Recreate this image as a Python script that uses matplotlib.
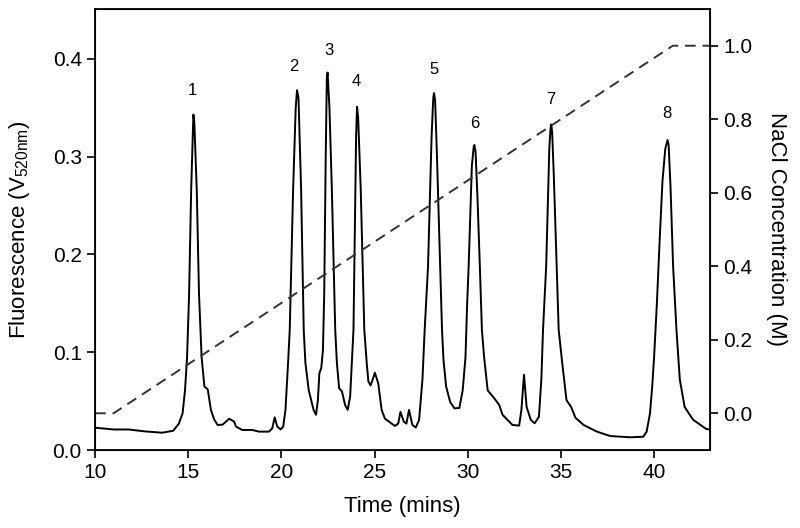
import matplotlib.pyplot as plt

plt.rcParams['font.family'] = ['Liberation Sans', 'DejaVu Sans']

# Fluorescence trace (time in mins, signal in V)
time = [10.0, 11.0, 11.8, 12.7, 13.6, 14.2, 14.5, 14.7, 14.83, 14.94, 15.05, 15.16, 15.24, 15.28, 15.33,
        15.46, 15.58, 15.72, 15.87, 16.05, 16.22, 16.4, 16.58, 16.85, 17.2, 17.47, 17.56, 17.9,
        18.44, 18.8, 19.33, 19.51, 19.64, 19.78, 19.96, 20.1, 20.22, 20.36, 20.45, 20.63, 20.77, 20.84,
        20.92, 21.06, 21.2, 21.29, 21.47, 21.73, 21.86, 21.96, 22.04, 22.14, 22.23, 22.3, 22.38, 22.44,
        22.48, 22.58, 22.71, 22.89, 22.98, 23.1, 23.25, 23.42, 23.56, 23.69, 23.78, 23.87, 23.94, 24.01,
        24.06, 24.12, 24.26, 24.45, 24.58, 24.67, 24.79, 25.02, 25.2, 25.38, 25.56, 26.09, 26.27, 26.39,
        26.57, 26.71, 26.85, 27.03, 27.21, 27.39, 27.57, 27.69, 27.87, 28.06, 28.15, 28.19, 28.25, 28.35,
        28.52, 28.62, 28.7, 28.84, 29.06, 29.29, 29.55, 29.73, 29.88, 29.97, 30.05, 30.22, 30.32, 30.36,
        30.42, 30.52, 30.65, 30.76, 30.88, 31.07, 31.42, 31.69, 31.87, 32.4, 32.76, 32.88, 33.02, 33.16,
        33.38, 33.59, 33.82, 33.95, 34.04, 34.21, 34.38, 34.45, 34.48, 34.53, 34.62, 34.77, 34.88, 35.07,
        35.3, 35.55, 35.78, 36.22, 36.93, 37.64, 38.71, 39.42, 39.6, 39.78, 39.9, 40.0, 40.15, 40.3,
        40.45, 40.6, 40.72, 40.78, 40.88, 41.02, 41.2, 41.38, 41.64, 42.09, 42.8, 43.0]
signal = [0.0228, 0.021, 0.021, 0.019, 0.0177, 0.0197, 0.027, 0.0375, 0.061, 0.095, 0.16, 0.266, 0.32, 0.343, 0.335,
          0.266, 0.16, 0.095, 0.065, 0.062, 0.041, 0.031, 0.0256, 0.026, 0.032, 0.029, 0.024, 0.0205,
          0.0205, 0.0188, 0.0188, 0.022, 0.0334, 0.024, 0.021, 0.024, 0.041, 0.089, 0.123, 0.266, 0.35, 0.368,
          0.36, 0.266, 0.123, 0.089, 0.061, 0.041, 0.036, 0.051, 0.0785, 0.0836, 0.102, 0.16, 0.3, 0.38,
          0.386, 0.35, 0.266, 0.123, 0.089, 0.063, 0.06, 0.046, 0.041, 0.0546, 0.089, 0.123, 0.22, 0.32,
          0.351, 0.34, 0.266, 0.123, 0.089, 0.07, 0.066, 0.079, 0.068, 0.041, 0.032, 0.0246, 0.027, 0.039,
          0.029, 0.027, 0.041, 0.0256, 0.023, 0.0307, 0.072, 0.123, 0.188, 0.32, 0.36, 0.365, 0.358, 0.3,
          0.188, 0.123, 0.092, 0.065, 0.049, 0.0426, 0.043, 0.061, 0.095, 0.15, 0.188, 0.29, 0.31, 0.312,
          0.305, 0.26, 0.188, 0.123, 0.095, 0.061, 0.053, 0.046, 0.036, 0.0256, 0.025, 0.041, 0.077, 0.044,
          0.031, 0.0273, 0.034, 0.072, 0.123, 0.188, 0.31, 0.33, 0.333, 0.325, 0.28, 0.188, 0.123, 0.089,
          0.051, 0.044, 0.033, 0.0256, 0.0188, 0.0143, 0.013, 0.0136, 0.0188, 0.0375, 0.065, 0.095, 0.15, 0.215,
          0.275, 0.308, 0.317, 0.312, 0.27, 0.188, 0.123, 0.072, 0.044, 0.031, 0.0215, 0.021]

# NaCl gradient (time in mins, concentration in M)
grad_time = [10, 11, 41, 43]
grad_conc = [0.0, 0.0, 1.0, 1.0]

# Peak labels
peak_labels = ['1', '2', '3', '4', '5', '6', '7', '8']
peak_time = [15.2, 20.67, 22.53, 24.04, 28.19, 30.36, 34.48, 40.67]
peak_height = [0.360, 0.384, 0.401, 0.369, 0.381, 0.326, 0.351, 0.336]

fig = plt.figure(figsize=(8, 5.28), dpi=100)
ax = fig.add_axes([0.11875, 0.1477, 0.76875, 0.8353])
ax.plot(time, signal, color='black', lw=1.4)
for lab, t, h in zip(peak_labels, peak_time, peak_height):
    ax.text(t, h, lab, ha='center', va='bottom', fontsize=12)

ax.set_xlim(10, 43)
ax.set_ylim(0, 0.451)
ax.set_xticks([10, 15, 20, 25, 30, 35, 40])
ax.set_yticks([0.0, 0.1, 0.2, 0.3, 0.4])
ax.set_yticklabels(['0.0', '0.1', '0.2', '0.3', '0.4'])
ax.tick_params(labelsize=15, length=6, width=1.2)
ax.set_xlabel('Time (mins)', fontsize=16, labelpad=10)
ax.set_ylabel(r'Fluorescence (V$_{\mathregular{520nm}}$)', fontsize=16, labelpad=15)
for s in ax.spines.values():
    s.set_linewidth(1.3)

ax2 = ax.twinx()
ax2.plot(grad_time, grad_conc, color='#333333', lw=1.4, dashes=(5.5, 3.5))
ax2.set_ylim(-0.1, 1.1)
ax2.set_yticks([0.0, 0.2, 0.4, 0.6, 0.8, 1.0])
ax2.set_yticklabels(['0.0', '0.2', '0.4', '0.6', '0.8', '1.0'])
ax2.tick_params(labelsize=15, length=6, width=1.2)
ax2.set_ylabel('NaCl Concentration (M)', fontsize=16, rotation=270, labelpad=25)

plt.savefig('out.png', dpi=100)
